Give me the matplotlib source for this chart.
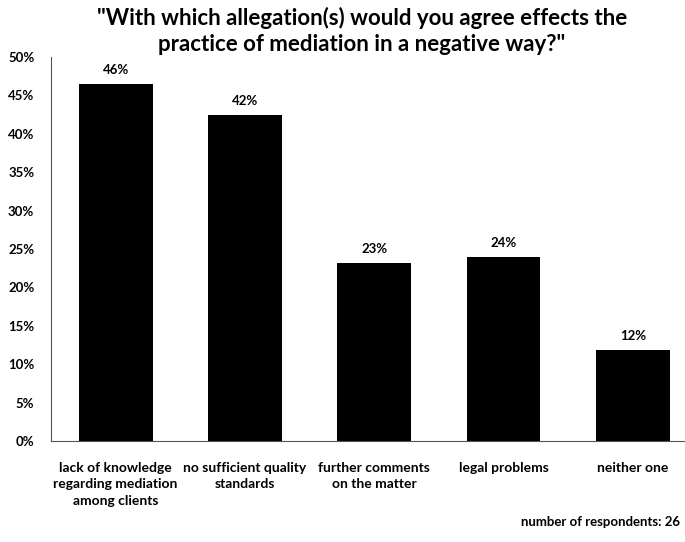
import matplotlib
matplotlib.use('Agg')
import matplotlib.pyplot as plt
from matplotlib.ticker import FuncFormatter

categories = [
    "lack of knowledge\nregarding mediation\namong clients",
    "no sufficient quality\nstandards",
    "further comments\non the matter",
    "legal problems",
    "neither one",
]
shares = [46.5, 42.5, 23.2, 24.0, 11.9]
value_labels = ["46%", "42%", "23%", "24%", "12%"]
y_ticks = list(range(0, 55, 5))

plt.rcParams['font.family'] = ['Lato', 'DejaVu Sans']

W, H = 685, 542
fig = plt.figure(figsize=(W / 100, H / 100), dpi=100)
ax = fig.add_axes([51 / W, (H - 441) / H, (697.5 - 51) / W, (441 - 57) / H])

x = list(range(len(categories)))
ax.bar(x, shares, width=0.57, color='black')
for xi, v, lab in zip(x, shares, value_labels):
    ax.text(xi, v + 1.0, lab, ha='center', va='bottom', fontsize=9.5, fontweight='bold')

ax.set_xlim(-0.5, len(categories) - 0.5)
ax.set_ylim(0, 50)
ax.set_yticks(y_ticks)
ax.yaxis.set_major_formatter(FuncFormatter(lambda v, p: f"{v:.0f}%"))
ax.set_xticks(x)
ax.set_xticklabels(categories, fontsize=10, fontweight='bold', linespacing=1.45)
for lab in ax.get_yticklabels():
    lab.set_fontsize(9.5)
    lab.set_fontweight('bold')
ax.tick_params(axis='both', length=0)
ax.tick_params(axis='x', pad=15)
ax.tick_params(axis='y', pad=12)

for s in ['top', 'right']:
    ax.spines[s].set_visible(False)
ax.spines['left'].set_color('#555555')
ax.spines['bottom'].set_color('#555555')

fig.text(362 / W, 1 - 31 / H,
         '"With which allegation(s) would you agree effects the\npractice of mediation in a negative way?"',
         ha='center', va='center', fontsize=16, fontweight='bold', linespacing=1.3)
fig.text(680 / W, 1 - 522 / H, "number of respondents: 26",
         ha='right', va='center', fontsize=9.5, fontweight='bold')

fig.savefig('out.png', dpi=100)
